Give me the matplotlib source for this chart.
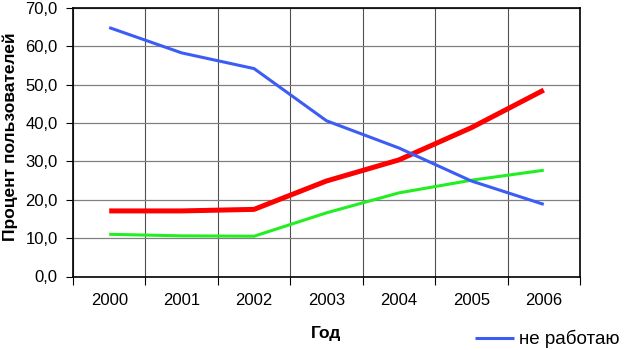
import matplotlib
matplotlib.use('Agg')
import matplotlib.pyplot as plt
import numpy as np

plt.rcParams['font.family'] = ['Liberation Sans', 'DejaVu Sans']

years = ['2000', '2001', '2002', '2003', '2004', '2005', '2006']
ne_rabotayu = [64.9, 58.3, 54.2, 40.6, 33.5, 24.9, 18.8]
red_series = [17.1, 17.1, 17.5, 24.9, 30.4, 38.8, 48.6]
green_series = [11.0, 10.6, 10.5, 16.6, 21.8, 25.1, 27.7]

fig = plt.figure(figsize=(6.24, 3.5), dpi=100)
ax = fig.add_axes([73 / 624, 1 - 276.5 / 350, (580 - 73) / 624, (276.5 - 8) / 350])

x = np.arange(len(years))
ax.plot(x, green_series, color='#22ee22', linewidth=2.2, solid_capstyle='butt')
ax.plot(x, red_series, color='#ff0000', linewidth=3.6, solid_capstyle='butt')
ax.plot(x, ne_rabotayu, color='#3b5cf5', linewidth=2.2, solid_capstyle='butt',
        label='не работаю')

ax.set_xlim(-0.5, len(years) - 0.5)
ax.set_ylim(0, 70)
ax.set_yticks(np.arange(0, 71, 10))
ax.set_yticklabels([f'{v},0' for v in range(0, 71, 10)], fontsize=12)
ax.set_xticks(x)
ax.set_xticklabels(years, fontsize=12)
ax.set_xticks(np.arange(-0.5, len(years)), minor=True)
ax.tick_params(axis='x', which='major', length=0, pad=12)
ax.tick_params(axis='x', which='minor', length=6, width=0.8, direction='out')
ax.tick_params(axis='y', length=5, width=0.8, pad=6)

ax.grid(True, axis='y', color='#808080', linewidth=0.9)
ax.grid(True, axis='x', which='minor', color='#505050', linewidth=0.8)
ax.set_axisbelow(True)
for s in ax.spines.values():
    s.set_linewidth(1.2)
    s.set_color('black')

ax.set_ylabel('Процент пользователей', fontsize=12.5, fontweight='bold')
ax.yaxis.set_label_coords(-55 / 507, 0.52)
ax.set_xlabel('Год', fontsize=12.5, fontweight='bold')
ax.xaxis.set_label_coords(0.5, -49.5 / 268.5)

# legend sits in the bottom right corner, only one entry is visible
fig.legend(loc='lower left', bbox_to_anchor=(458 / 624, -15 / 350), frameon=False,
           fontsize=13.5, handlelength=2.1, handletextpad=0.27)

fig.savefig('out.png', dpi=100)
